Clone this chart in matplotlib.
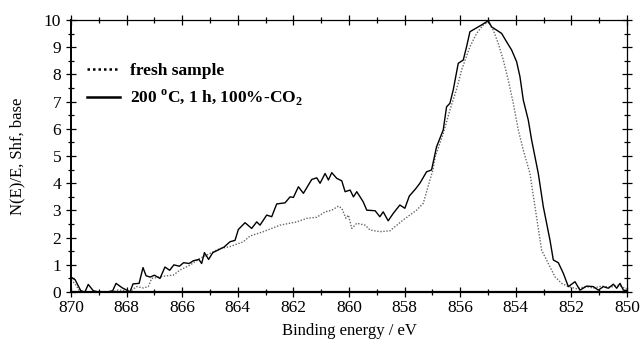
import numpy as np
import matplotlib
matplotlib.use('Agg')
import matplotlib.pyplot as plt
from matplotlib.ticker import MultipleLocator

plt.rcParams['font.family'] = ['Liberation Serif', 'DejaVu Serif']
plt.rcParams['mathtext.fontset'] = 'custom'
plt.rcParams['mathtext.rm'] = 'Liberation Serif:bold'
plt.rcParams['mathtext.bf'] = 'Liberation Serif:bold'

# 200 C, 1 h, 100%-CO2 (solid)
e_co2 = [870.0, 869.85, 869.65, 869.5, 869.38, 869.2, 869.0, 868.7, 868.5, 868.38,
         868.15, 867.95, 867.88, 867.77, 867.55, 867.41, 867.3, 867.15, 867.0, 866.8,
         866.62, 866.45, 866.3, 866.1, 865.95, 865.75, 865.6, 865.4, 865.3, 865.2,
         865.05, 864.9, 864.7, 864.5, 864.28, 864.1, 863.98, 863.74, 863.5, 863.32,
         863.2, 862.96, 862.78, 862.6, 862.3, 862.12, 862.0, 861.82, 861.64, 861.34,
         861.16, 861.04, 860.86, 860.74, 860.62, 860.44, 860.26, 860.14, 859.96, 859.84,
         859.72, 859.49, 859.36, 859.06, 858.89, 858.77, 858.59, 858.41, 858.17, 857.99,
         857.83, 857.6, 857.45, 857.21, 857.03, 856.85, 856.61, 856.49, 856.37, 856.25,
         856.07, 855.89, 855.77, 855.65, 855.5, 855.35, 855.23, 855.11, 854.99, 854.87,
         854.69, 854.51, 854.33, 854.15, 853.97, 853.85, 853.73, 853.55, 853.43, 853.19,
         853.01, 852.77, 852.65, 852.47, 852.29, 852.11, 851.87, 851.69, 851.45, 851.21,
         851.03, 850.85, 850.67, 850.49, 850.37, 850.25, 850.13, 850.0]
n_co2 = [0.55, 0.45, 0.05, 0.0, 0.28, 0.05, 0.0, 0.0, 0.05, 0.32,
         0.15, 0.05, 0.0, 0.3, 0.32, 0.9, 0.6, 0.55, 0.62, 0.5,
         0.92, 0.8, 1.0, 0.95, 1.08, 1.05, 1.15, 1.2, 1.05, 1.45,
         1.2, 1.45, 1.55, 1.65, 1.85, 1.9, 2.3, 2.55, 2.34, 2.58,
         2.46, 2.83, 2.77, 3.24, 3.28, 3.5, 3.48, 3.87, 3.63, 4.14,
         4.2, 4.0, 4.36, 4.12, 4.39, 4.18, 4.09, 3.69, 3.75, 3.5,
         3.69, 3.32, 3.01, 2.99, 2.77, 2.95, 2.62, 2.89, 3.2, 3.08,
         3.53, 3.8, 4.0, 4.42, 4.49, 5.34, 5.96, 6.81, 6.94, 7.43,
         8.41, 8.53, 9.02, 9.57, 9.66, 9.75, 9.82, 9.9, 9.97, 9.75,
         9.63, 9.51, 9.2, 8.9, 8.47, 7.92, 7.06, 6.32, 5.59, 4.36,
         3.14, 1.91, 1.18, 1.08, 0.69, 0.2, 0.38, 0.07, 0.22, 0.2,
         0.07, 0.2, 0.14, 0.29, 0.14, 0.32, 0.07, 0.05]

# fresh sample (dotted)
e_fresh = [870.0, 869.85, 869.7, 869.5, 868.5, 868.3, 868.1, 867.9, 867.64, 867.4,
           867.22, 867.1, 866.8, 866.55, 866.32, 866.08, 865.72, 865.36, 865.0, 864.64,
           864.28, 863.8, 863.56, 863.08, 862.48, 861.88, 861.52, 861.16, 860.86, 860.62,
           860.38, 860.26, 860.11, 860.02, 859.9, 859.72, 859.42, 859.24, 858.89, 858.53,
           858.35, 858.05, 857.81, 857.57, 857.33, 857.15, 856.98, 856.9, 856.61, 856.37,
           856.12, 855.95, 855.65, 855.41, 855.17, 854.99, 854.81, 854.63, 854.45, 854.27,
           854.09, 853.91, 853.73, 853.49, 853.31, 853.07, 852.83, 852.59, 852.35, 852.11,
           851.8, 851.5, 851.2, 850.9, 850.6, 850.3, 850.0]
n_fresh = [0.45, 0.3, 0.05, 0.0, 0.0, 0.08, 0.05, 0.0, 0.2, 0.15,
           0.2, 0.5, 0.56, 0.6, 0.62, 0.81, 0.99, 1.24, 1.42, 1.6,
           1.67, 1.85, 2.06, 2.22, 2.46, 2.58, 2.71, 2.75, 2.95, 3.01,
           3.16, 3.08, 2.71, 2.83, 2.34, 2.53, 2.46, 2.28, 2.22, 2.25,
           2.4, 2.65, 2.83, 3.01, 3.26, 3.9, 4.49, 4.97, 5.83, 6.69,
           7.49, 8.16, 9.02, 9.51, 9.82, 9.94, 9.63, 9.14, 8.53, 7.79,
           6.94, 5.96, 5.22, 4.36, 3.14, 1.54, 1.05, 0.56, 0.32, 0.2,
           0.12, 0.2, 0.15, 0.22, 0.18, 0.25, 0.1]

fig = plt.figure(figsize=(6.42, 3.4), dpi=100)
ax = fig.add_axes([0.1106, 0.141, 0.866, 0.8])

ax.plot(e_fresh, n_fresh, color='#666666', linestyle=(0, (1, 1.2)), linewidth=1.0, label='fresh sample')
ax.plot(e_co2, n_co2, color='black', linestyle='-', linewidth=1.0,
        label='200 $^{\\mathrm{o}}$C, 1 h, 100%-CO$_2$')

ax.set_xlim(870, 850)
ax.set_ylim(0, 10)
ax.xaxis.set_major_locator(MultipleLocator(2))
ax.xaxis.set_minor_locator(MultipleLocator(1))
ax.yaxis.set_major_locator(MultipleLocator(1))
ax.yaxis.set_minor_locator(MultipleLocator(0.5))
ax.tick_params(which='both', direction='inout', top=True, right=True, labelsize=12.5, width=0.9)
ax.tick_params(which='major', length=7)
ax.tick_params(which='minor', length=5)
ax.tick_params(axis='x', pad=2)

for s in ax.spines.values():
    s.set_linewidth(0.9)
ax.spines['bottom'].set_linewidth(1.6)
ax.spines['left'].set_linewidth(1.4)

ax.set_xlabel('Binding energy / eV', fontsize=12, labelpad=5)
ax.set_ylabel('N(E)/E, Shf, base', fontsize=12, labelpad=13)

leg = ax.legend(loc='upper left', bbox_to_anchor=(0.0, 0.9), frameon=False,
                prop={'family': 'Liberation Serif', 'weight': 'bold', 'size': 12.5},
                handlelength=1.9, handletextpad=0.6, labelspacing=0.5)
for line in leg.get_lines():
    line.set_linewidth(1.8)
    line.set_color('black')

fig.savefig('out.png', dpi=100)
